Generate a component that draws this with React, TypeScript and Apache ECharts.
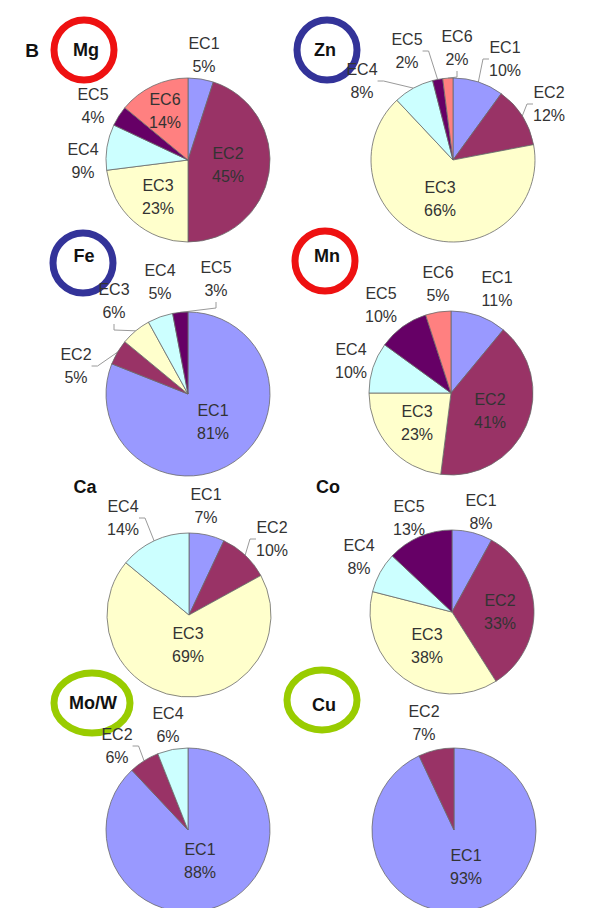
import React, { useEffect, useRef } from 'react';
import * as echarts from 'echarts';

// Extraction classes and their slice colours
const CLASSES = ['EC1', 'EC2', 'EC3', 'EC4', 'EC5', 'EC6'];
const CLASS_COLORS = ['#9999ff', '#993366', '#ffffcc', '#ccffff', '#660066', '#ff8080'];

// Share (%) of each element in EC1..EC6; 0 means the class is absent
const MG = [5, 45, 23, 9, 4, 14];
const ZN = [10, 12, 66, 8, 2, 2];
const FE = [81, 5, 6, 5, 3, 0];
const MN = [11, 41, 23, 10, 10, 5];
const CA = [7, 10, 69, 14, 0, 0];
const CO = [8, 33, 38, 8, 13, 0];
const MOW = [88, 6, 0, 6, 0, 0];
const CU = [93, 7, 0, 0, 0, 0];

const ELEMENTS = ['Mg', 'Zn', 'Fe', 'Mn', 'Ca', 'Co', 'Mo/W', 'Cu'];
const VALUES = [MG, ZN, FE, MN, CA, CO, MOW, CU];

// Layout: pie centres, and label placement relative to each centre
// [dx, dy, inside, leaderLine]
type LabelSpec = [number, number, boolean, boolean];
const PIE_RADIUS = 82;
const PIE_CENTERS: [number, number][] = [
  [188, 160], [453, 160],
  [188, 394], [451, 393],
  [189, 615], [452, 612],
  [188, 830], [454, 830],
];
const LABELS: Record<string, LabelSpec>[] = [
  { EC1: [16, -105, false, false], EC2: [40, 5, true, false], EC3: [-30, 37, true, false], EC4: [-105, 1, false, false], EC5: [-95, -54, false, false], EC6: [-23, -49, true, false] },
  { EC1: [52, -101, false, true], EC2: [96, -56, false, true], EC3: [-13, 39, true, false], EC4: [-91, -79, false, true], EC5: [-46, -109, false, true], EC6: [4, -112, false, true] },
  { EC1: [25, 28, true, false], EC2: [-112, -28, false, true], EC3: [-74, -93, false, true], EC4: [-28, -112, false, false], EC5: [28, -115, false, true] },
  { EC1: [46, -104, false, false], EC2: [39, 18, true, false], EC3: [-34, 30, true, false], EC4: [-100, -32, false, false], EC5: [-70, -88, false, false], EC6: [-13, -109, false, false] },
  { EC1: [17, -109, false, false], EC2: [83, -76, false, true], EC3: [-1, 30, true, false], EC4: [-66, -97, false, true] },
  { EC1: [29, -100, false, false], EC2: [48, 0, true, false], EC3: [-25, 34, true, false], EC4: [-93, -55, false, false], EC5: [-43, -94, false, false] },
  { EC1: [12, 31, true, false], EC2: [-71, -84, false, true], EC4: [-20, -105, false, false] },
  { EC1: [12, 37, true, false], EC2: [-30, -107, false, false] },
];

// Element tags: text position and optional highlight ring
type Tag = { x: number; y: number; ring?: { cx: number; cy: number; rx: number; ry: number; color: string } };
const RED = '#ee1111';
const BLUE = '#333399';
const GREEN = '#99cc00';
const TAGS: Tag[] = [
  { x: 86, y: 50, ring: { cx: 84, cy: 50, rx: 30, ry: 30, color: RED } },
  { x: 325, y: 50, ring: { cx: 327, cy: 50, rx: 30, ry: 30, color: BLUE } },
  { x: 84, y: 256, ring: { cx: 83, cy: 263, rx: 30, ry: 30, color: BLUE } },
  { x: 327, y: 256, ring: { cx: 325, cy: 261, rx: 30, ry: 30, color: RED } },
  { x: 85, y: 487 },
  { x: 328, y: 487 },
  { x: 93, y: 703, ring: { cx: 92, cy: 703, rx: 38, ry: 30, color: GREEN } },
  { x: 324, y: 705, ring: { cx: 322, cy: 700, rx: 35, ry: 30, color: GREEN } },
];

const FONT = '"Liberation Sans", Arial, sans-serif';

function buildOption(): echarts.EChartsOption {
  const series: any[] = ELEMENTS.map((el, i) => {
    const [cx, cy] = PIE_CENTERS[i];
    const specs = LABELS[i];
    const data = CLASSES.map((name, k) => ({ name, value: VALUES[i][k], k }))
      .filter((d) => d.value > 0)
      .map((d) => {
        const spec = specs[d.name];
        return {
          name: d.name,
          value: d.value,
          itemStyle: { color: CLASS_COLORS[d.k] },
          label: { position: spec && spec[2] ? 'inside' : 'outside' },
          labelLine: { show: !!(spec && spec[3]) },
        };
      });
    return {
      type: 'pie',
      name: el,
      center: [cx, cy],
      radius: [0, PIE_RADIUS],
      startAngle: 90,
      clockwise: true,
      avoidLabelOverlap: false,
      data,
      itemStyle: { borderColor: '#6a6a6a', borderWidth: 0.8 },
      label: {
        show: true,
        formatter: '{b}\n{c}%',
        color: '#333',
        fontFamily: FONT,
        fontSize: 16,
        lineHeight: 23,
        align: 'center',
      },
      labelLine: {
        length: 8,
        length2: 6,
        smooth: false,
        lineStyle: { color: '#9a9a9a', width: 1 },
      },
      emphasis: { disabled: true },
      labelLayout: (p: any) => {
        const name = data[p.dataIndex].name;
        const spec = specs[name];
        if (!spec) return {};
        return { x: cx + spec[0], y: cy + spec[1], align: 'center', verticalAlign: 'middle' };
      },
    };
  });

  const graphics: any[] = [
    {
      type: 'text',
      x: 32,
      y: 50,
      style: { text: 'B', font: `bold 19px ${FONT}`, fill: '#111', align: 'center', verticalAlign: 'middle' },
    },
  ];
  TAGS.forEach((t, i) => {
    if (t.ring) {
      graphics.push({
        type: 'ellipse',
        shape: { cx: t.ring.cx, cy: t.ring.cy, rx: t.ring.rx, ry: t.ring.ry },
        style: { fill: 'none', stroke: t.ring.color, lineWidth: 7 },
      });
    }
    graphics.push({
      type: 'text',
      x: t.x,
      y: t.y,
      style: { text: ELEMENTS[i], font: `bold 18px ${FONT}`, fill: '#111', align: 'center', verticalAlign: 'middle' },
    });
  });

  return {
    animation: false,
    backgroundColor: '#ffffff',
    series,
    graphic: graphics,
  };
}

export default function App() {
  const ref = useRef<HTMLDivElement>(null);
  useEffect(() => {
    if (!ref.current) return;
    const chart = echarts.init(ref.current, undefined, { renderer: 'svg' });
    chart.setOption(buildOption());
    return () => chart.dispose();
  }, []);
  return <div ref={ref} style={{ position: 'absolute', left: 0, top: 0, width: 590, height: 908 }} />;
}
